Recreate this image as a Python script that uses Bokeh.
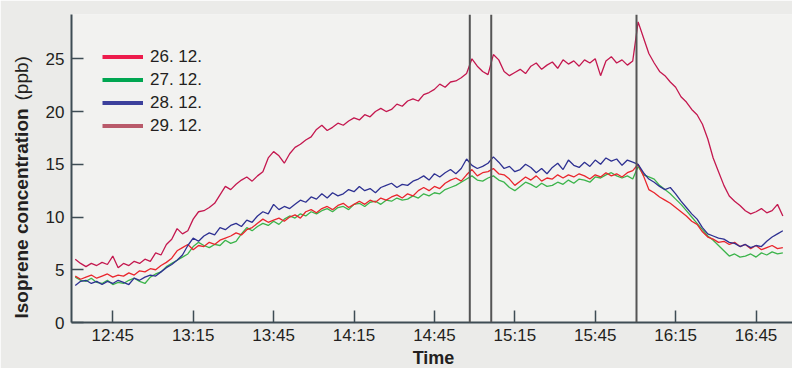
import math
from bokeh.plotting import figure
from bokeh.models import Range1d, FixedTicker, Span, Label, Legend, LegendItem, CDSView, IndexFilter
from bokeh.embed import file_html
from bokeh.resources import INLINE

# Readings every 2 minutes, time in minutes after 12:00 (12:31 ... 16:55)
t_start = 31
t_step = 2

iso_26_12 = [
    4.4, 4.1, 4.3, 4.5, 4.2, 4.4, 4.6, 4.3, 4.5, 4.4,
    4.7, 4.5, 4.9, 4.8, 5.1, 5.0, 5.4, 5.7, 6.1, 6.8,
    7.1, 7.4, 6.9, 7.3, 7.2, 7.6, 7.4, 7.8, 8.0, 8.2,
    8.5, 8.3, 8.8, 9.0, 9.4, 9.8, 9.5, 9.7, 9.9, 9.6,
    10.0, 10.2, 9.9, 10.5, 10.7, 10.4, 10.8, 11.0, 10.7, 11.1,
    11.3, 10.9, 11.2, 11.5, 11.2, 11.6, 11.4, 11.8, 11.6, 11.9,
    12.1, 11.8, 12.2, 12.0, 12.5, 12.8, 12.5, 12.9, 12.7, 13.2,
    13.5, 13.7, 13.4, 14.0, 14.5, 13.9, 14.2, 14.3, 14.6, 14.1,
    14.0, 13.6, 13.0, 13.4, 13.8, 13.5, 13.9, 13.4, 13.7, 13.6,
    14.0, 13.7, 14.0, 13.8, 14.1, 13.9, 13.6, 14.0, 13.8, 14.2,
    13.9, 14.1, 13.8, 14.2, 14.4, 15.0, 13.9, 12.6, 12.3, 11.9,
    11.6, 11.3, 10.9, 10.5, 10.1, 9.6, 9.3, 8.6, 8.1, 7.9,
    7.6, 7.7, 7.4, 7.6, 7.2, 7.4, 7.0, 7.3, 6.9, 7.1,
    7.3, 7.0, 7.1,
]

iso_27_12 = [
    4.3, 4.0, 3.9, 4.2, 3.8, 3.7, 4.0, 3.6, 3.8, 3.7,
    4.0, 4.2, 3.9, 3.7, 4.3, 4.6, 4.8, 5.3, 5.6, 5.9,
    6.2, 6.5, 7.2, 7.6, 7.3, 7.1, 7.4, 7.3, 7.8, 7.5,
    7.7, 8.4, 9.0, 8.7, 9.1, 9.4, 9.2, 9.6, 9.3, 9.8,
    10.1, 9.9, 10.3, 10.1, 10.5, 10.3, 10.6, 10.8, 10.5, 10.9,
    11.0, 10.7, 11.2, 11.3, 11.0, 11.4, 11.5, 11.2, 11.6, 11.5,
    11.8, 11.6, 11.7, 12.0, 11.8, 12.2, 12.0, 12.3, 12.2, 12.6,
    12.8, 13.0, 13.3, 13.6, 13.9, 13.5, 13.4, 13.7, 13.9, 13.5,
    13.3, 12.8, 12.5, 12.9, 13.3, 13.1, 12.8, 13.2, 12.9, 13.0,
    13.3, 13.1, 13.5, 13.2, 13.6, 13.5, 13.3, 13.8, 13.7, 14.0,
    14.2, 13.9, 13.7, 13.9, 13.6, 14.8, 14.0, 13.8, 13.6, 13.0,
    12.6, 12.2, 11.7, 11.2, 10.6, 10.0, 9.4, 8.8, 8.2, 7.8,
    7.3, 6.8, 6.3, 6.5, 6.2, 6.3, 6.5, 6.2, 6.6, 6.4,
    6.7, 6.5, 6.6,
]

iso_28_12 = [
    3.5, 3.9, 4.0, 3.7, 3.9, 3.6, 3.9, 3.7, 4.0, 3.8,
    3.6, 4.2, 4.0, 4.3, 4.5, 4.4, 4.8, 5.2, 5.5, 5.9,
    6.4, 7.3, 8.0, 7.7, 8.2, 8.5, 8.3, 9.0, 8.8, 9.2,
    9.4, 9.1, 9.7, 9.5, 10.1, 10.5, 10.3, 11.2, 10.7, 11.0,
    10.8, 11.2, 11.6, 11.4, 11.9, 11.7, 12.2, 11.8, 12.3, 12.0,
    12.2, 12.6, 12.4, 12.9, 12.5, 12.7, 12.3, 12.8, 13.0, 13.2,
    12.8, 13.1, 13.0, 13.4, 13.6, 13.9, 13.5, 14.1, 13.8, 14.2,
    14.5, 14.1, 14.6, 15.5, 14.9, 14.6, 14.8, 15.1, 15.7, 15.2,
    14.6, 14.8, 14.3, 14.5, 15.0, 14.7, 14.2, 14.6, 14.1, 14.7,
    15.1, 14.5, 15.4, 14.9, 14.7, 15.2, 14.8, 15.4, 15.0, 15.6,
    15.3, 15.5, 14.9, 15.4, 15.2, 15.0, 14.2, 13.6, 13.3, 12.9,
    12.6, 12.8, 12.2, 11.5, 10.9, 10.3, 9.8, 9.0, 8.4, 8.2,
    8.0, 7.9, 7.6, 7.5, 7.2, 7.4, 7.1, 7.3, 7.2, 7.7,
    8.1, 8.4, 8.7,
]

iso_29_12 = [
    6.0, 5.6, 5.3, 5.6, 5.4, 5.7, 5.5, 6.3, 5.2, 5.6,
    5.4, 5.8, 5.6, 6.0, 5.8, 6.6, 6.4, 7.4, 7.9, 8.9,
    8.4, 8.7, 9.8, 10.5, 10.6, 10.9, 11.3, 12.1, 12.9, 12.6,
    13.1, 13.5, 13.8, 13.4, 13.9, 14.3, 15.6, 16.2, 15.8, 15.1,
    16.0, 16.6, 16.9, 17.3, 17.6, 18.3, 18.7, 18.2, 18.5, 18.9,
    18.7, 19.1, 19.4, 19.2, 19.7, 19.5, 20.0, 20.3, 20.0, 20.2,
    20.7, 20.5, 21.0, 21.2, 21.0, 21.6, 21.8, 22.1, 22.6, 22.3,
    22.8, 22.9, 23.2, 23.6, 25.0, 24.3, 23.8, 23.5, 25.4, 24.9,
    23.8, 23.4, 23.7, 24.0, 23.6, 24.3, 24.6, 24.0, 24.4, 24.7,
    24.1, 24.9, 24.5, 24.8, 24.3, 24.9, 24.6, 25.0, 23.4, 24.8,
    25.2, 24.6, 24.9, 24.4, 24.8, 28.5, 27.0, 25.5, 24.6, 23.8,
    23.4, 22.8, 22.3, 21.4, 20.9, 20.2, 19.7, 18.8, 17.4, 15.6,
    14.3, 13.0, 12.0, 11.5, 11.1, 10.6, 10.3, 10.5, 10.8, 10.4,
    10.6, 11.2, 10.1,
]

series_labels = ["26. 12.", "27. 12.", "28. 12.", "29. 12."]
line_colors = ["#e9262d", "#3cb44b", "#2e3192", "#c4184f"]
legend_colors = ["#ed1c4c", "#00a651", "#3c409c", "#b95a6a"]

tick_minutes = [45, 75, 105, 135, 165, 195, 225, 255, 285]
tick_labels = ["12:45", "13:15", "13:45", "14:15", "14:45", "15:15", "15:45", "16:15", "16:45"]
y_ticks = [0, 5, 10, 15, 20, 25]
event_minutes = [178.2, 186.2, 240.4]

times = [t_start + t_step * i for i in range(len(iso_26_12))]

FONT = "Liberation Sans"
TXT = "#231f20"
AXIS = "#3e4c54"

p = figure(width=792, height=368, output_backend="svg", toolbar_location=None,
           x_range=Range1d(29.6, 298.6), y_range=Range1d(0, 29.2),
           min_border_left=71, min_border_right=0, min_border_top=14, min_border_bottom=46)
p.background_fill_color = "#f2f2f0"
p.border_fill_color = "#ebebe9"
p.outline_line_color = None
p.grid.visible = False

data = [iso_26_12, iso_27_12, iso_28_12, iso_29_12]
order = [1, 0, 2, 3]
for k in order:
    p.line(times, data[k], line_color=line_colors[k], line_width=1.3)

items = []
for k in range(4):
    r = p.line(x=times, y=data[k], line_color=legend_colors[k], line_width=4,
               view=CDSView(filter=IndexFilter(indices=[0])))
    items.append(LegendItem(label=series_labels[k], renderers=[r]))

legend = Legend(items=items, location="top_left", glyph_width=41, glyph_height=23,
                label_height=23, spacing=0, label_standoff=7, padding=10, margin=21,
                label_text_font=FONT, label_text_font_size="17px", label_text_color=TXT,
                background_fill_alpha=0, border_line_alpha=0)
p.add_layout(legend)

for m in event_minutes:
    p.add_layout(Span(location=m, dimension="height", line_color="#555555", line_width=2))

for ax in (p.xaxis[0], p.yaxis[0]):
    ax.axis_line_color = AXIS
    ax.axis_line_width = 2
    ax.major_tick_line_color = AXIS
    ax.major_tick_line_width = 1.5
    ax.major_tick_in = 12
    ax.major_tick_out = 0
    ax.minor_tick_line_color = None
    ax.major_label_text_font = FONT
    ax.major_label_text_font_size = "17px"
    ax.major_label_text_color = TXT

p.xaxis[0].ticker = FixedTicker(ticks=tick_minutes)
p.xaxis[0].major_label_overrides = {m: s for m, s in zip(tick_minutes, tick_labels)}
p.xaxis[0].major_label_standoff = 3
p.yaxis[0].ticker = FixedTicker(ticks=y_ticks)
p.yaxis[0].major_label_standoff = 7

p.add_layout(Label(x=20.5, y=318, x_units="canvas", y_units="canvas", text="Isoprene concentration",
                   angle=math.pi / 2, text_font=FONT, text_font_style="bold", text_font_size="19px",
                   text_color=TXT, text_align="left", text_baseline="alphabetic"), "left")
p.add_layout(Label(x=20.5, y=100, x_units="canvas", y_units="canvas", text="(ppb)",
                   angle=math.pi / 2, text_font=FONT, text_font_size="19px",
                   text_color=TXT, text_align="left", text_baseline="alphabetic"), "left")
p.add_layout(Label(x=433, y=357, x_units="canvas", y_units="canvas", text="Time",
                   text_font=FONT, text_font_style="bold", text_font_size="18px",
                   text_color=TXT, text_align="center", text_baseline="alphabetic"), "below")

open("out.html", "w").write(file_html(p, INLINE))
